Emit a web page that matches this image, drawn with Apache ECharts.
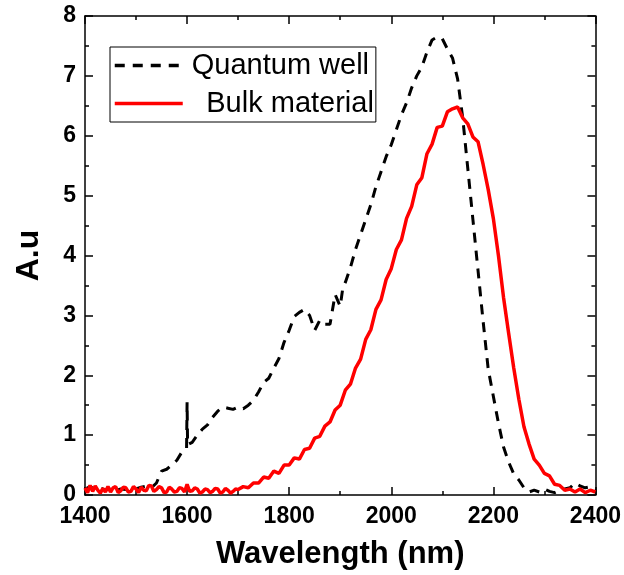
<!DOCTYPE html>
<html><head><meta charset="utf-8">
<script src="https://cdn.jsdelivr.net/npm/echarts@6/dist/echarts.min.js"></script>
<style>html,body{margin:0;padding:0;background:#fff}#c{width:624px;height:575px}</style>
</head><body><div id="c"></div>
<script>
const xTicks = [1400, 1600, 1800, 2000, 2200, 2400];
const yTicks = [0, 1, 2, 3, 4, 5, 6, 7, 8];

const qwX = [1400,1410,1420,1430,1440,1450,1460,1470,1480,1490,1500,1510,1520,1530,1540,1550,1560,1570,1580,1590,1599,1600,1601,1610,1620,1630,1640,1650,1660,1670,1680,1690,1700,1710,1720,1730,1740,1750,1760,1770,1780,1790,1800,1810,1820,1830,1840,1850,1860,1870,1880,1890,1900,1905,1910,1920,1930,1940,1950,1960,1970,1980,1990,2000,2010,2020,2030,2040,2050,2060,2070,2080,2090,2100,2110,2120,2130,2140,2150,2160,2170,2180,2190,2200,2210,2220,2230,2240,2250,2260,2270,2280,2290,2300,2310,2320,2330,2340,2350,2360,2370,2380,2390,2400];
const qwY = [0.1,0.14,0.09,0.12,0.08,0.11,0.07,0.1,0.09,0.12,0.1,0.13,0.15,0.12,0.2,0.4,0.43,0.5,0.58,0.72,0.78,1.55,0.84,0.88,1.0,1.1,1.17,1.3,1.4,1.47,1.45,1.43,1.47,1.44,1.5,1.58,1.72,1.88,1.95,2.12,2.28,2.55,2.75,2.98,3.05,3.1,3.0,2.75,2.92,2.85,2.85,3.35,3.15,3.45,3.55,3.8,4.1,4.35,4.6,4.85,5.15,5.4,5.65,5.85,6.1,6.35,6.55,6.8,7.0,7.15,7.4,7.6,7.65,7.62,7.45,7.3,6.95,6.3,5.45,4.6,3.75,2.9,2.1,1.65,1.2,0.8,0.55,0.35,0.25,0.12,0.05,0.08,0.05,0.1,0.06,0.04,0.08,0.1,0.12,0.2,0.15,0.12,0.14,0.08];

const bulkX = [1400,1405,1410,1415,1420,1425,1430,1435,1440,1445,1450,1455,1460,1465,1470,1475,1480,1485,1490,1495,1500,1505,1510,1515,1520,1525,1530,1535,1540,1545,1550,1555,1560,1565,1570,1575,1580,1585,1590,1595,1600,1605,1610,1615,1620,1625,1630,1635,1640,1645,1650,1655,1660,1665,1670,1675,1680,1685,1690,1695,1700,1710,1720,1730,1740,1750,1760,1770,1780,1790,1800,1810,1820,1830,1840,1850,1860,1870,1880,1890,1900,1910,1920,1930,1940,1950,1960,1970,1980,1990,2000,2010,2020,2030,2040,2050,2060,2070,2080,2090,2100,2110,2120,2130,2140,2150,2160,2170,2180,2190,2200,2210,2220,2230,2240,2250,2260,2270,2280,2290,2300,2310,2320,2330,2340,2350,2360,2370,2380,2390,2400];
const bulkY = [0.12,0.04,0.16,0.06,0.15,0.08,0.03,0.11,0.05,0.14,0.05,0.12,0.14,0.04,0.07,0.13,0.12,0.05,0.06,0.14,0.1,0.04,0.13,0.08,0.07,0.16,0.15,0.06,0.09,0.14,0.12,0.04,0.05,0.13,0.1,0.05,0.06,0.12,0.11,0.05,0.18,0.06,0.07,0.12,0.1,0.03,0.05,0.1,0.09,0.04,0.06,0.11,0.1,0.03,0.05,0.11,0.08,0.03,0.06,0.1,0.09,0.14,0.12,0.2,0.2,0.3,0.28,0.4,0.36,0.5,0.5,0.62,0.6,0.76,0.78,0.95,0.98,1.15,1.22,1.42,1.5,1.75,1.85,2.12,2.27,2.6,2.76,3.1,3.26,3.6,3.78,4.1,4.26,4.62,4.82,5.18,5.3,5.7,5.86,6.14,6.16,6.4,6.45,6.48,6.3,6.2,5.98,5.9,5.52,5.1,4.62,4.0,3.3,2.7,2.12,1.6,1.14,0.85,0.6,0.5,0.36,0.32,0.18,0.16,0.08,0.1,0.05,0.1,0.04,0.08,0.05];

const FONT = "Arial, 'Liberation Sans', sans-serif";
const chart = echarts.init(document.getElementById('c'), null, {renderer: 'canvas'});
const axisLineStyle = {color: '#000', width: 1.5};
const xCommon = {
  type: 'value', min: xTicks[0], max: xTicks[xTicks.length - 1], interval: 200,
  axisLine: {show: true, onZero: false, lineStyle: axisLineStyle},
  axisTick: {show: true, inside: true, length: 8, lineStyle: {color: '#000', width: 1.5}},
  minorTick: {show: true, splitNumber: 2, length: 4, lineStyle: {color: '#000', width: 1.5}},
  splitLine: {show: false}
};
const yCommon = {
  type: 'value', min: yTicks[0], max: yTicks[yTicks.length - 1], interval: 1,
  axisLine: {show: true, onZero: false, lineStyle: axisLineStyle},
  axisTick: {show: true, inside: true, length: 8, lineStyle: {color: '#000', width: 1.5}},
  minorTick: {show: true, splitNumber: 2, length: 4, lineStyle: {color: '#000', width: 1.5}},
  splitLine: {show: false}
};
chart.setOption({
  animation: false,
  backgroundColor: '#fff',
  grid: {left: 85, right: 25, top: 16, bottom: 79},
  legend: {
    orient: 'vertical', left: 110, top: 47,
    itemWidth: 68, itemHeight: 14, itemGap: 9,
    padding: [4, 2, 4, 3],
    borderColor: '#000', borderWidth: 1, backgroundColor: '#fff',
    itemStyle: {opacity: 0},
    lineStyle: {width: 3.5},
    textStyle: {fontFamily: FONT, fontSize: 29, color: '#000', padding: [0, 0, 0, 4]},
    formatter: function (name) { return name === 'Bulk material' ? '\u2002' + name : name; },
    data: ['Quantum well', 'Bulk material']
  },
  xAxis: [
    Object.assign({}, xCommon, {
      position: 'bottom',
      name: 'Wavelength (nm)', nameLocation: 'middle', nameGap: 44,
      nameTextStyle: {fontFamily: FONT, fontSize: 31, fontWeight: 'bold', color: '#000'},
      axisLabel: {fontFamily: FONT, fontSize: 23, fontWeight: 'bold', color: '#000', margin: 10,
        formatter: function (v) { return String(v); }}
    }),
    Object.assign({}, xCommon, {position: 'top', axisLabel: {show: false}})
  ],
  yAxis: [
    Object.assign({}, yCommon, {
      position: 'left',
      name: 'A.u', nameLocation: 'middle', nameGap: 40, nameRotate: 90,
      nameTextStyle: {fontFamily: FONT, fontSize: 32, fontWeight: 'bold', color: '#000'},
      axisLabel: {fontFamily: FONT, fontSize: 23, fontWeight: 'bold', color: '#000', margin: 9}
    }),
    Object.assign({}, yCommon, {position: 'right', axisLabel: {show: false}})
  ],
  series: [
    {
      name: 'Quantum well', type: 'line', showSymbol: false, symbol: 'none',
      data: qwX.map((x, i) => [x, qwY[i]]),
      lineStyle: {color: '#000', width: 3, type: [10, 8]},
      itemStyle: {color: '#000'}
    },
    {
      name: 'Bulk material', type: 'line', showSymbol: false, symbol: 'none',
      data: bulkX.map((x, i) => [x, bulkY[i]]),
      lineStyle: {color: '#ff0000', width: 3.5},
      itemStyle: {color: '#ff0000'}
    }
  ]
});
</script></body></html>
